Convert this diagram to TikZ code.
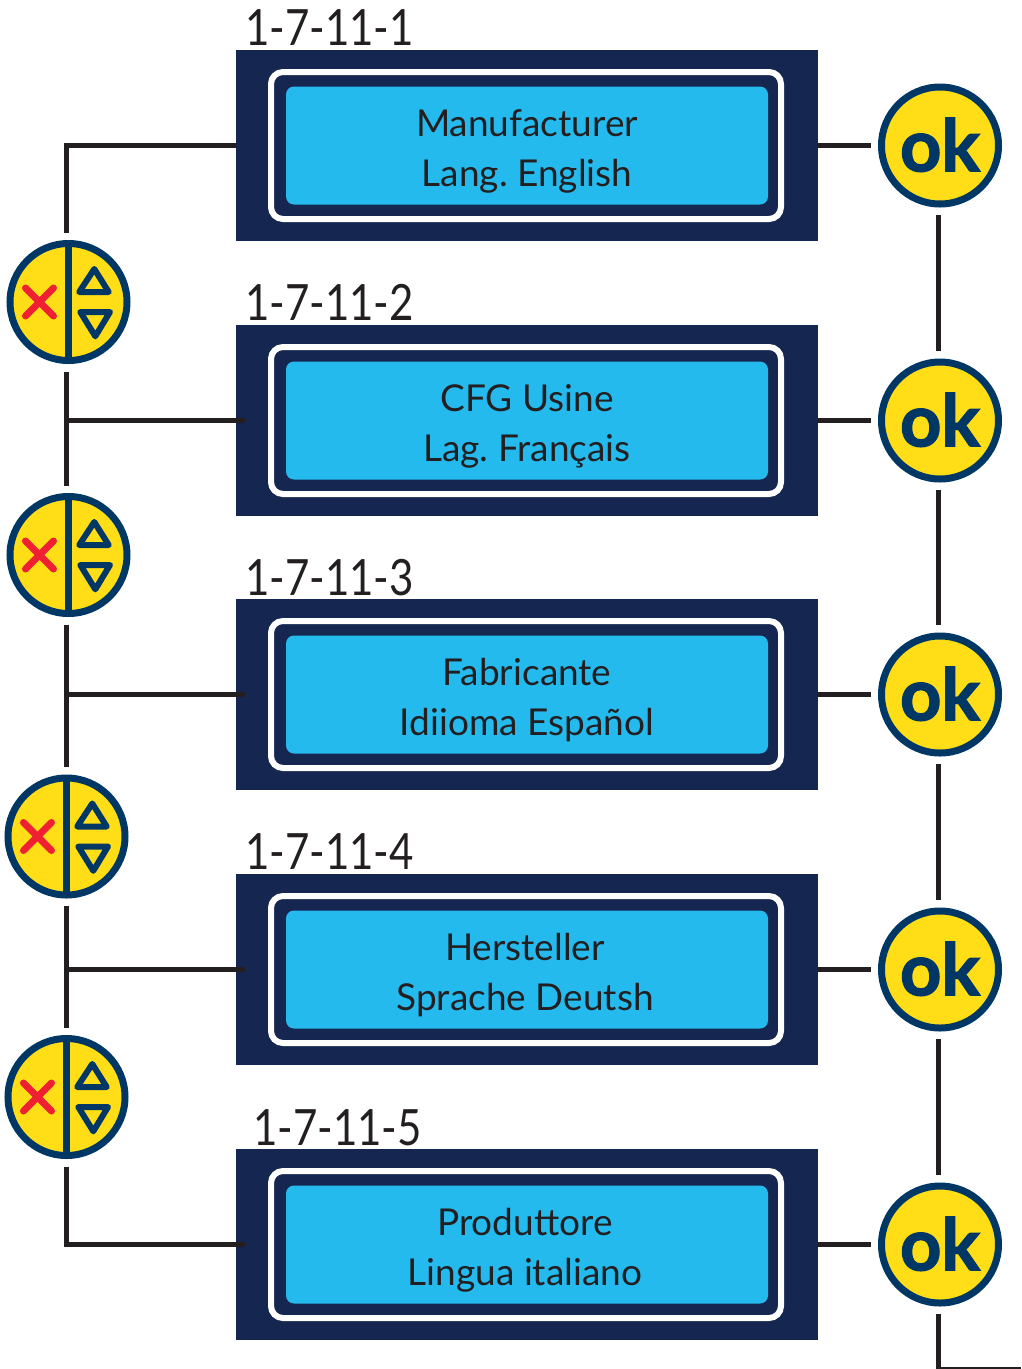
\documentclass[tikz,border=0pt]{standalone}
\usepackage{fontspec}
\setmainfont{Lato}
\newfontfamily\stepfont[FakeStretch=0.84]{Lato}
\newfontfamily\okfont[BoldFeatures={FakeBold=2}]{Lato}
\frenchspacing
\definecolor{panelnavy}{HTML}{152750}
\definecolor{ringnavy}{HTML}{003764}
\definecolor{lcdblue}{HTML}{25BAEE}
\definecolor{btnyellow}{HTML}{FFDD17}
\definecolor{inkdark}{HTML}{231F20}
\definecolor{crossred}{HTML}{EE2032}
\tikzset{
  panelbox/.style={fill=panelnavy, minimum width=582pt, minimum height=191pt, inner sep=0pt, outer sep=0pt},
  framebox/.style={draw=white, line width=6pt, rounded corners=12pt, minimum width=510pt, minimum height=147pt, inner sep=0pt, outer sep=0pt, xshift=-1pt},
  lcdbox/.style={fill=lcdblue, rounded corners=8pt, minimum width=482pt, minimum height=118pt, inner sep=0pt, outer sep=0pt},
  lcdtext/.style={inner sep=0pt, text=inkdark, align=center, font=\fontsize{37}{50}\selectfont},
  okbtn/.style={circle, draw=ringnavy, fill=btnyellow, line width=7pt, minimum size=117pt, inner sep=0pt, outer sep=11pt, text=ringnavy, font=\fontsize{72}{72}\selectfont\okfont\bfseries},
  navbtn/.style={circle, draw=ringnavy, fill=btnyellow, line width=7pt, minimum size=117pt, inner sep=0pt, outer sep=11pt},
  steplabel/.style={anchor=base west, inner sep=0pt, text=inkdark, font=\fontsize{50}{50}\selectfont\stepfont},
  link/.style={draw=inkdark, line width=5pt},
  navmarks/.pic={
    \draw [ringnavy, line width=7pt] (0, -58) -- (0, 58);
    \draw [crossred, line width=7pt, line cap=round] (-43, -14) -- (-15, 14);
    \draw [crossred, line width=7pt, line cap=round] (-43, 14) -- (-15, -14);
    \draw [ringnavy, line width=6pt, line join=round] (25.8, -33) -- (10.7, -10) -- (40.2, -10) -- cycle;
    \draw [ringnavy, line width=6pt, line join=round] (11.8, 10) -- (41.5, 10) -- (26.8, 34.3) -- cycle;
  }
}
\begin{document}
\begin{tikzpicture}[x=1pt, y=-1pt]
  \useasboundingbox (0, 0) rectangle (1021, 1369);
  % panels
  \node [panelbox] (panel1) at (527, 145.5) {};
  \node [panelbox] (panel2) at (527, 420.5) {};
  \node [panelbox] (panel3) at (527, 694.5) {};
  \node [panelbox] (panel4) at (527, 969.5) {};
  \node [panelbox] (panel5) at (527, 1244.5) {};
  \node [framebox] (frame1) at (panel1) {};
  \node [framebox] (frame2) at (panel2) {};
  \node [framebox] (frame3) at (panel3) {};
  \node [framebox] (frame4) at (panel4) {};
  \node [framebox] (frame5) at (panel5) {};
  \node [lcdbox] (lcd1) at (panel1) {};
  \node [lcdbox] (lcd2) at (panel2) {};
  \node [lcdbox] (lcd3) at (panel3) {};
  \node [lcdbox] (lcd4) at (panel4) {};
  \node [lcdbox] (lcd5) at (panel5) {};
  \node [lcdtext, yshift=-6pt] (text1) at (panel1) {Manufacturer\\Lang. English};
  \node [lcdtext, yshift=-6pt] (text2) at (panel2) {CFG Usine\\Lag. Français};
  \node [lcdtext, yshift=-6pt] (text3) at (panel3) {Fabricante\\Idiioma Español};
  \node [lcdtext, yshift=-6pt, xshift=-2pt] (text4) at (panel4) {Hersteller\\Sprache Deutsh};
  \node [lcdtext, yshift=-6pt, xshift=-2pt] (text5) at (panel5) {Produttore\\Lingua italiano};
  % labels
  \node [steplabel] (step1) at (245, 45) {1-7-11-1};
  \node [steplabel] (step2) at (245, 320) {1-7-11-2};
  \node [steplabel] (step3) at (245, 595) {1-7-11-3};
  \node [steplabel] (step4) at (245, 869) {1-7-11-4};
  \node [steplabel] (step5) at (253, 1145) {1-7-11-5};
  % buttons
  \node [okbtn] (ok1) at (940, 145.5) {\raisebox{2pt}{ok}};
  \node [okbtn] (ok2) at (940, 420.5) {\raisebox{2pt}{ok}};
  \node [okbtn] (ok3) at (940, 694.5) {\raisebox{2pt}{ok}};
  \node [okbtn] (ok4) at (940, 969.5) {\raisebox{2pt}{ok}};
  \node [okbtn] (ok5) at (940, 1244.5) {\raisebox{2pt}{ok}};
  \node [navbtn] (nav1) at (68.5, 302) {};
  \node [navbtn] (nav2) at (68.5, 555) {};
  \node [navbtn] (nav3) at (66.5, 836.5) {};
  \node [navbtn] (nav4) at (66.5, 1097) {};
  \pic at (nav1) {navmarks};
  \pic at (nav2) {navmarks};
  \pic at (nav3) {navmarks};
  \pic at (nav4) {navmarks};
  % free ends of the links
  \coordinate (topcorner) at (66, 145.5);
  \coordinate (botcorner) at (66, 1244.5);
  \coordinate (okend) at (938, 1369.5);
  \coordinate (offpage) at (1021, 1369.5);
  % left side
  \draw [link] (panel1.west) -- (topcorner) -- (topcorner |- nav1.north);
  \draw [link] (topcorner |- nav1.south) -- (topcorner |- nav2.north);
  \draw [link] (topcorner |- nav2.south) -- (topcorner |- nav3.north);
  \draw [link] (topcorner |- nav3.south) -- (topcorner |- nav4.north);
  \draw [link] (topcorner |- nav4.south) -- (botcorner) -- ([xshift=9pt]panel5.west);
  \draw [link] (topcorner |- panel2.west) -- ([xshift=9pt]panel2.west);
  \draw [link] (topcorner |- panel3.west) -- ([xshift=9pt]panel3.west);
  \draw [link] (topcorner |- panel4.west) -- ([xshift=9pt]panel4.west);
  % right side
  \draw [link] (panel1.east) -- (ok1.west);
  \draw [link] (panel2.east) -- (ok2.west);
  \draw [link] (panel3.east) -- (ok3.west);
  \draw [link] (panel4.east) -- (ok4.west);
  \draw [link] (panel5.east) -- (ok5.west);
  \draw [link] (okend |- ok1.south) -- (okend |- ok2.north);
  \draw [link] (okend |- ok2.south) -- (okend |- ok3.north);
  \draw [link] (okend |- ok3.south) -- (okend |- ok4.north);
  \draw [link] (okend |- ok4.south) -- (okend |- ok5.north);
  \draw [link] (okend |- ok5.south) -- (okend) -- (offpage);
\end{tikzpicture}
\end{document}
